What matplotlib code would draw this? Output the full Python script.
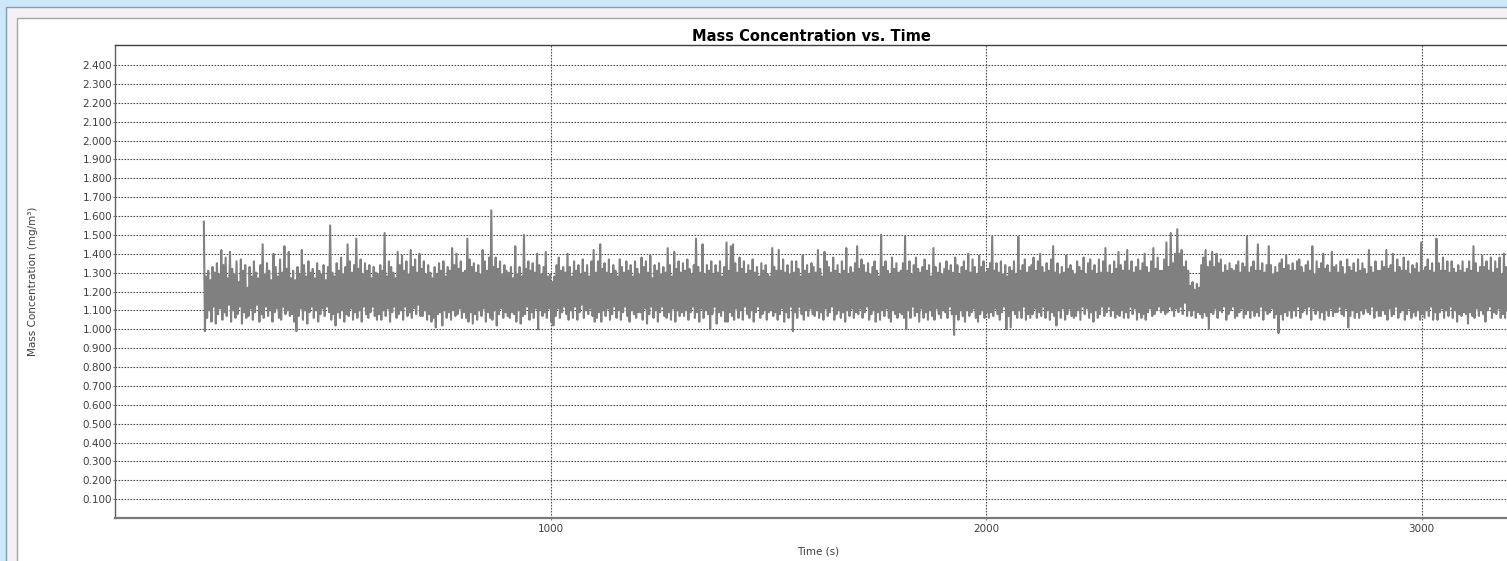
import numpy as np
import matplotlib.pyplot as plt
from matplotlib.patches import Rectangle

# logger samples every 2.5 s, first sample at t = 204 s
t_start = 204.0
dt = 2.5

# mass concentration in units of 0.01 mg/m3, one row per 100 s of logging
conc_raw = [
    157, 99, 128, 106, 131, 110, 126, 104, 133, 112, 130, 103, 135, 108, 129, 111, 142, 105, 134, 109,
    138, 107, 127, 113, 141, 104, 132, 110, 129, 106, 136, 108, 125, 112, 137, 103, 131, 109, 134, 106,
    122, 107, 133, 111, 128, 105, 136, 109, 130, 113, 127, 104, 134, 108, 145, 106, 129, 112, 135, 107,
    131, 110, 126, 104, 140, 109, 133, 111, 128, 106, 137, 105, 130, 112, 144, 108, 132, 110, 141, 107,
    127, 108, 131, 104, 126, 99, 133, 107, 129, 111, 142, 105, 134, 110, 128, 103, 136, 109, 130, 112,
    132, 106, 127, 110, 135, 104, 131, 108, 129, 111, 134, 107, 126, 112, 133, 109, 155, 105, 130, 108,
    128, 102, 135, 109, 131, 106, 138, 110, 129, 104, 133, 108, 145, 107, 136, 111, 130, 105, 134, 109,
    148, 106, 132, 110, 137, 104, 129, 112, 135, 108, 131, 106, 134, 109, 127, 112, 133, 107, 130, 105,
    129, 108, 134, 105, 131, 110, 151, 107, 128, 111, 136, 104, 133, 109, 130, 112, 127, 106, 141, 108,
    134, 110, 139, 105, 131, 112, 136, 107, 129, 109, 142, 106, 133, 111, 137, 108, 130, 113, 140, 107,
    132, 107, 136, 110, 129, 105, 134, 108, 130, 104, 127, 106, 133, 101, 129, 108, 135, 109, 131, 102,
    136, 110, 128, 106, 133, 109, 131, 105, 143, 110, 134, 107, 140, 108, 132, 111, 136, 106, 130, 109,
    131, 106, 148, 104, 137, 109, 133, 103, 135, 108, 130, 105, 134, 110, 129, 107, 142, 111, 136, 104,
    131, 109, 138, 106, 163, 105, 133, 110, 138, 102, 132, 108, 136, 111, 129, 106, 134, 109, 131, 107,
    130, 106, 133, 109, 127, 108, 144, 104, 129, 110, 133, 103, 128, 107, 150, 108, 132, 112, 136, 105,
    131, 109, 135, 106, 130, 111, 140, 100, 134, 110, 129, 107, 133, 109, 141, 106, 128, 111, 129, 104,
    125, 102, 128, 107, 134, 111, 138, 106, 131, 109, 133, 112, 130, 108, 140, 105, 133, 110, 128, 106,
    136, 112, 131, 105, 134, 109, 129, 113, 137, 106, 130, 110, 134, 108, 128, 111, 136, 107, 142, 104,
    130, 106, 136, 109, 145, 104, 132, 110, 135, 107, 130, 111, 137, 105, 129, 108, 134, 112, 131, 106,
    128, 110, 137, 105, 133, 109, 130, 112, 136, 107, 131, 104, 134, 110, 128, 108, 136, 106, 132, 109,
    129, 109, 138, 105, 133, 111, 136, 103, 130, 108, 139, 112, 127, 106, 134, 110, 131, 104, 135, 109,
    129, 112, 133, 107, 130, 106, 143, 109, 134, 105, 128, 111, 141, 104, 132, 110, 136, 107, 130, 109,
    135, 107, 131, 110, 137, 105, 132, 109, 129, 112, 134, 106, 148, 109, 133, 104, 130, 111, 145, 106,
    129, 110, 134, 108, 131, 100, 136, 108, 129, 112, 134, 103, 130, 109, 136, 107, 128, 110, 133, 104,
    146, 104, 131, 109, 144, 107, 145, 105, 135, 111, 130, 106, 138, 110, 132, 105, 136, 112, 129, 108,
    134, 106, 131, 110, 137, 104, 130, 109, 133, 112, 128, 106, 135, 108, 131, 110, 134, 105, 129, 109,
    128, 110, 143, 107, 133, 109, 131, 105, 142, 108, 131, 111, 137, 104, 130, 109, 134, 106, 129, 112,
    136, 99, 130, 109, 136, 106, 132, 112, 128, 108, 139, 105, 131, 110, 134, 107, 129, 111, 135, 108,
    133, 107, 130, 110, 142, 106, 132, 109, 128, 105, 141, 111, 136, 107, 133, 109, 130, 112, 138, 105,
    131, 108, 134, 110, 129, 106, 136, 109, 131, 104, 143, 110, 129, 107, 133, 111, 130, 106, 135, 109,
    144, 108, 132, 111, 137, 106, 134, 109, 130, 112, 135, 105, 129, 108, 133, 110, 136, 104, 131, 109,
    128, 105, 150, 110, 133, 107, 136, 111, 131, 106, 129, 104, 138, 110, 132, 108, 135, 106, 130, 109,
    131, 108, 135, 106, 149, 100, 131, 110, 136, 106, 129, 112, 134, 107, 138, 109, 132, 104, 130, 111,
    133, 106, 137, 109, 131, 105, 134, 110, 128, 107, 143, 105, 133, 111, 130, 108, 135, 106, 129, 110,
    132, 109, 136, 106, 131, 112, 134, 108, 130, 97, 138, 108, 134, 105, 129, 110, 133, 107, 136, 104,
    131, 110, 140, 107, 130, 109, 137, 111, 133, 106, 129, 104, 139, 108, 133, 110, 136, 106, 130, 109,
    132, 106, 135, 109, 149, 107, 131, 111, 135, 108, 130, 105, 136, 109, 129, 112, 134, 100, 128, 107,
    133, 101, 131, 110, 136, 108, 129, 106, 149, 110, 131, 106, 134, 112, 137, 105, 130, 108, 133, 106,
    134, 108, 138, 111, 131, 106, 136, 109, 140, 107, 133, 112, 130, 106, 135, 110, 131, 105, 137, 109,
    144, 107, 130, 102, 135, 110, 129, 106, 133, 111, 130, 105, 139, 108, 132, 111, 134, 107, 131, 106,
    129, 107, 136, 110, 133, 105, 131, 112, 138, 108, 129, 111, 135, 106, 137, 109, 131, 104, 134, 110,
    129, 106, 137, 108, 130, 112, 136, 107, 143, 109, 130, 112, 134, 107, 129, 110, 136, 106, 132, 108,
    141, 107, 134, 110, 131, 106, 136, 109, 142, 106, 131, 112, 136, 108, 130, 111, 133, 105, 137, 109,
    131, 106, 135, 108, 140, 105, 133, 109, 130, 111, 136, 107, 143, 108, 132, 110, 138, 112, 131, 109,
    131, 110, 137, 108, 146, 109, 133, 112, 151, 110, 135, 107, 140, 111, 153, 109, 140, 112, 142, 108,
    133, 114, 136, 107, 131, 110, 123, 107, 125, 110, 121, 106, 124, 109, 122, 108, 134, 106, 138, 109,
    142, 107, 133, 100, 136, 109, 141, 108, 133, 111, 140, 106, 135, 110, 137, 109, 130, 112, 134, 105,
    131, 108, 135, 110, 132, 112, 131, 106, 134, 107, 136, 109, 130, 111, 135, 106, 133, 108, 149, 110,
    130, 106, 133, 110, 136, 107, 131, 109, 145, 107, 131, 112, 135, 105, 130, 110, 134, 108, 144, 109,
    134, 111, 129, 106, 133, 108, 130, 98, 135, 108, 137, 105, 132, 109, 139, 107, 134, 110, 131, 106,
    135, 110, 131, 107, 136, 112, 137, 106, 133, 109, 130, 111, 134, 108, 136, 112, 131, 105, 144, 111,
    129, 108, 136, 110, 132, 106, 135, 109, 140, 105, 132, 110, 134, 107, 130, 111, 141, 107, 133, 109,
    134, 109, 130, 112, 136, 108, 133, 107, 129, 111, 137, 101, 133, 107, 131, 110, 135, 106, 130, 109,
    137, 106, 131, 110, 135, 108, 132, 111, 129, 109, 142, 108, 133, 112, 130, 106, 136, 110, 131, 107,
    131, 107, 136, 110, 133, 108, 142, 105, 132, 111, 134, 107, 140, 108, 130, 112, 137, 106, 133, 109,
    131, 110, 138, 105, 131, 108, 136, 111, 129, 106, 134, 109, 132, 107, 135, 110, 130, 105, 146, 108,
    131, 106, 133, 110, 137, 107, 131, 112, 135, 105, 130, 109, 148, 105, 135, 109, 131, 111, 138, 106,
    131, 110, 136, 107, 130, 112, 136, 106, 132, 110, 130, 104, 134, 108, 131, 107, 136, 109, 130, 108,
    132, 103, 136, 109, 131, 107, 144, 106, 135, 111, 130, 107, 133, 110, 139, 108, 133, 104, 136, 110,
    131, 112, 138, 106, 130, 109, 136, 108, 132, 111, 138, 106, 129, 108, 140, 106, 133, 110, 131, 107,
]
conc = np.array(conc_raw) / 100.0          # mg/m3
time_s = t_start + dt * np.arange(len(conc))

y_ticks = [0.1, 0.2, 0.3, 0.4, 0.5, 0.6, 0.7, 0.8, 0.9, 1.0, 1.1, 1.2,
           1.3, 1.4, 1.5, 1.6, 1.7, 1.8, 1.9, 2.0, 2.1, 2.2, 2.3, 2.4]
x_ticks = [1000, 2000, 3000]

W, H = 1507, 561
fig = plt.figure(figsize=(W / 100, H / 100), dpi=100, facecolor='#cde8fb')


def px_rect(x0, y0, x1, y1, **kw):
    # rectangle given in pixel coords measured from the top-left corner
    fig.patches.append(Rectangle((x0 / W, 1 - y1 / H), (x1 - x0) / W, (y1 - y0) / H,
                                 transform=fig.transFigure, figure=fig, zorder=-10, **kw))


# window frame around the chart panel
px_rect(6, 7, W + 2, H + 2, facecolor='#f5f0f5', edgecolor='#8c9aa6', lw=1)
px_rect(17, 18, W + 2, H + 2, facecolor='white', edgecolor='#a6a6a6', lw=1)

ax = fig.add_axes([115 / W, 1 - 518 / H, (W - 115) / W, 473 / H])
ax.set_facecolor('white')
ax.plot(time_s, conc, color='#808080', lw=1.5)

ax.set_xlim(0, 3196)
ax.set_ylim(0, 2.506)
ax.set_xticks(x_ticks)
ax.set_yticks(y_ticks)
ax.set_yticklabels(['%.3f' % v for v in y_ticks])
ax.tick_params(axis='both', labelsize=7.5, labelcolor='#404040', color='#808080',
               length=1.5, width=0.8)
ax.tick_params(axis='y', pad=0.5)
ax.tick_params(axis='x', pad=3)

ax.grid(True, color='#505050', lw=0.8, ls=(0, (1.5, 1.2)))
ax.set_axisbelow(True)

ax.spines['right'].set_visible(False)
ax.spines['top'].set_color('#404040')
ax.spines['top'].set_linewidth(1.0)
ax.spines['left'].set_color('#606060')
ax.spines['left'].set_linewidth(1.0)
ax.spines['bottom'].set_color('#7a7a7a')
ax.spines['bottom'].set_linewidth(1.6)

ax.set_title('Mass Concentration vs. Time', fontsize=10.5, fontweight='bold', pad=3)
ax.set_xlabel('Time (s)', fontsize=7.5, color='#404040')
ax.set_ylabel('Mass Concentration (mg/m³)', fontsize=7.5, color='#404040')
ax.xaxis.set_label_coords((818 - 115) / (W - 115), -(547 - 518) / 473)
ax.yaxis.set_label_coords(-(115 - 38) / (W - 115), 0.5)

fig.savefig('out.png', dpi=100, facecolor=fig.get_facecolor())
